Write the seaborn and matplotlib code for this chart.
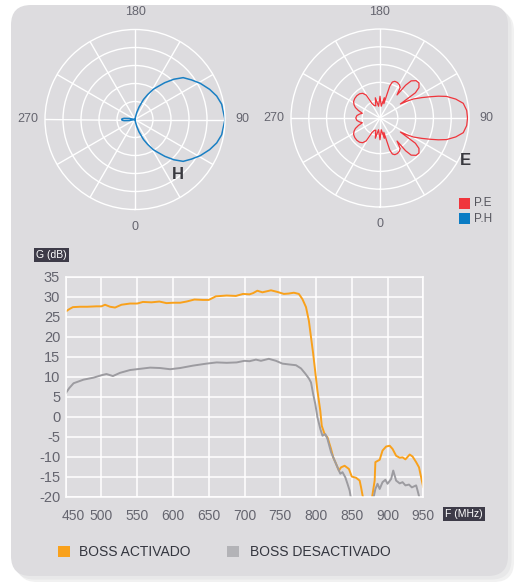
import numpy as np
import pandas as pd
import seaborn as sns
import matplotlib.pyplot as plt
from matplotlib.patches import FancyBboxPatch, Rectangle
import matplotlib.transforms as transforms

# radiation patterns: angle in degrees (0 at bottom, 90 at right), radius 0..90 (outer ring)
h_theta = [90, 100, 106, 112, 119, 125, 131, 136, 141, 146, 149, 153, 157, 162, 166, 170, 175,
           256, 260, 264, 267, 270]
h_r = [90, 88, 85, 80.5, 74.6, 69, 63.8, 56, 47.4, 39, 35, 28, 21.7, 13, 7, 2, 0,
       0, 6, 11, 13, 13.3]

e_theta = [90, 95, 100, 104, 108, 110.5, 113, 116, 119.6, 122, 124.5,
           125.5, 128, 132, 136, 140, 142, 143.5,
           146.5, 150, 154, 158, 161, 163, 165,
           168, 174, 180, 187, 193, 199, 205,
           209, 211, 215, 220, 226, 232, 238, 243, 247, 251, 255,
           259, 264, 270]
e_r = [88.5, 88, 85.5, 79, 70.7, 63, 55, 47, 39, 32, 25,
       44, 50, 53, 52.5, 49, 42, 29,
       37, 39, 40, 40, 38.5, 34, 15,
       21, 12, 22, 12, 21, 13, 14,
       17, 27, 30.5, 32, 32.5, 32.3, 31.5, 29.5, 27, 23, 18.5,
       21, 23.5, 24.5]

# gain curves G (dB) vs F (MHz)
act_f = [450, 455, 460, 470, 480, 493, 500, 505, 512, 519, 528, 540, 550, 558, 570, 581, 591, 600, 610, 619,
         630, 642, 650, 660, 675, 688, 698, 707, 712, 718, 725, 737, 746, 755, 762, 769, 776, 781, 786, 790,
         793, 796, 800, 802, 806, 808, 812, 816, 821, 824, 828, 832, 835, 840, 846, 850, 856, 861, 863, 866,
         869, 876, 878, 882, 883, 889, 893, 898, 903, 907, 912, 917, 921, 925, 931, 935, 940, 944, 947, 950]
act_g = [26.3, 26.9, 27.4, 27.5, 27.5, 27.6, 27.6, 28.0, 27.5, 27.3, 28.0, 28.3, 28.3, 28.7, 28.6, 28.8, 28.4, 28.5, 28.5, 28.8,
         29.3, 29.2, 29.2, 30.1, 30.3, 30.2, 30.7, 30.6, 30.9, 31.5, 31.1, 31.6, 31.2, 30.7, 30.8, 31.0, 30.7, 29.4, 27.4, 24.0,
         19.9, 15.8, 9.6, 6.5, 1.5, -2.2, -4.3, -5.1, -8.0, -10.1, -11.7, -13.4, -12.6, -12.2, -13.0, -14.9, -15.2, -15.9, -17.6, -20.5,
         -24, -24, -20.5, -15.9, -11.3, -10.7, -8.4, -7.4, -7.2, -8.0, -9.7, -10.2, -10.1, -10.6, -9.4, -9.9, -11.3, -12.6, -15.1, -17.6]

des_f = [450, 455, 461, 475, 489, 500, 507, 516, 526, 540, 554, 568, 582, 596, 610, 628, 647, 661, 675, 689,
         700, 707, 716, 723, 734, 744, 753, 762, 772, 779, 785, 790, 793, 796, 799, 802, 806, 809, 813, 816,
         821, 826, 830, 834, 837, 841, 844, 847, 849, 853, 877, 880, 883, 886, 889, 893, 897, 900, 905, 908,
         912, 917, 921, 925, 930, 934, 940, 942, 945, 947]
des_g = [5.9, 7.2, 8.4, 9.3, 9.8, 10.4, 10.7, 10.2, 11.0, 11.7, 12.0, 12.3, 12.2, 11.9, 12.2, 12.8, 13.3, 13.6, 13.5, 13.6,
         14.0, 13.9, 14.3, 14.0, 14.5, 14.0, 13.3, 13.1, 12.9, 12.1, 10.8, 9.6, 8.6, 5.7, 3.2, -0.1, -3.0, -4.7, -4.3, -5.5,
         -8.8, -10.9, -12.6, -14.2, -13.8, -15.1, -16.7, -18.4, -20.5, -24, -24, -20.5, -18.0, -16.7, -18.0, -16.3, -15.7, -16.7, -15.5, -13.4,
         -15.9, -16.6, -16.3, -17.1, -16.9, -17.6, -17.1, -18.4, -20.5, -24]

x_ticks = [450, 500, 550, 600, 650, 700, 750, 800, 850, 900, 950]
y_ticks = [-20, -15, -10, -5, 0, 5, 10, 15, 20, 25, 30, 35]

ORANGE = '#f9a11b'
GREY = '#9c9ba0'
RED = '#f0353c'
BLUE = '#1a80c4'
PANEL = '#dddcdf'
TXT = '#65656f'

sns.set_style('white')
plt.rcParams['font.family'] = ['Liberation Sans', 'DejaVu Sans']
plt.rcParams['axes.unicode_minus'] = False

W, H = 518, 588
fig = plt.figure(figsize=(W / 100, H / 100), dpi=100)
fig.patch.set_facecolor('white')


def fx(x):
    return x / W


def fy(y):
    return 1 - y / H


# panel with soft shadow, kept under the axes
for off, col in [(0.06, '#f1f1f1'), (0.035, '#e8e8e9')]:
    fig.patches.append(FancyBboxPatch((0.11 + off, 0.12 - off), 4.97, 5.71,
                                      boxstyle='round,pad=0,rounding_size=0.2',
                                      fc=col, ec='none', transform=fig.dpi_scale_trans, zorder=-10))
fig.patches.append(FancyBboxPatch((0.11, 0.12), 4.97, 5.71, boxstyle='round,pad=0,rounding_size=0.2',
                                  fc=PANEL, ec='none', transform=fig.dpi_scale_trans, zorder=-9))


def full_circle(theta, r):
    t = np.array(theta, float)
    r = np.array(r, float)
    t_all = np.concatenate([t, 540 - t[::-1][1:]])
    r_all = np.concatenate([r, r[::-1][1:]])
    return np.deg2rad(t_all), r_all


def polar_panel(rect, theta, r, color, lw):
    ax = fig.add_axes(rect, projection='polar')
    ax.set_facecolor(PANEL)
    ax.set_theta_zero_location('S')
    ax.set_theta_direction(1)
    th, rr = full_circle(theta, r)
    sns.lineplot(x=th, y=rr, ax=ax, sort=False, estimator=None, color=color, lw=lw)
    ax.set_ylim(0, 90)
    ax.set_yticks([18, 36, 54, 72])
    ax.set_yticklabels([])
    labels = ['0', '', '', '90', '', '', '180', '', '', '270', '', '']
    ax.set_thetagrids(range(0, 360, 30), labels=labels)
    ax.grid(True, color='white', lw=1.0)
    ax.spines['polar'].set_color('white')
    ax.spines['polar'].set_linewidth(1.0)
    ax.tick_params(axis='x', colors=TXT, labelsize=9, pad=2)
    ax.set_xlabel('')
    ax.set_ylabel('')
    return ax


polar_panel([fx(45), fy(209.5), 180 / W, 180 / H], h_theta, h_r, BLUE, 1.1)
polar_panel([fx(291), fy(207), 178 / W, 178 / H], e_theta, e_r, RED, 0.9)

fig.text(fx(178), fy(174.5), 'H', fontsize=12, fontweight='bold', color='#3a3a40', ha='center', va='center')
fig.text(fx(465.5), fy(160), 'E', fontsize=12, fontweight='bold', color='#3a3a40', ha='center', va='center')

fig.add_artist(Rectangle((fx(459), fy(208.5)), 11 / W, 11 / H, transform=fig.transFigure, fc=RED, ec='none'))
fig.add_artist(Rectangle((fx(459), fy(224)), 11 / W, 11 / H, transform=fig.transFigure, fc='#0a7cc4', ec='none'))
fig.text(fx(474), fy(203.5), 'P.E', fontsize=8.5, color='#55555d', va='center')
fig.text(fx(474), fy(219), 'P.H', fontsize=8.5, color='#55555d', va='center')

# gain chart
ax = fig.add_axes([fx(65.7), fy(497), (423.3 - 65.7) / W, (497 - 276.7) / H])
ax.set_facecolor(PANEL)
gain = pd.concat([
    pd.DataFrame({'f': act_f, 'g': act_g, 'boss': 'BOSS ACTIVADO'}),
    pd.DataFrame({'f': des_f, 'g': des_g, 'boss': 'BOSS DESACTIVADO'}),
])
sns.lineplot(data=gain, x='f', y='g', hue='boss', palette=[ORANGE, GREY], estimator=None,
             sort=False, lw=1.4, legend=False, ax=ax)
ax.set_xlim(450, 950)
ax.set_ylim(-20, 35)
ax.set_xticks(x_ticks)
ax.set_yticks(y_ticks)
ax.set_xticklabels([str(v) for v in x_ticks])
ax.set_yticklabels([str(v) for v in y_ticks])
ax.grid(True, color='white', lw=1.1)
ax.set_axisbelow(True)
for s in ax.spines.values():
    s.set_color('white')
    s.set_linewidth(1.1)
ax.tick_params(axis='both', length=0, colors=TXT, labelsize=10.5)
ax.tick_params(axis='x', pad=9, labelsize=10)
ax.tick_params(axis='y', pad=4)
ax.set_xlabel('')
ax.set_ylabel('')
first = ax.get_xticklabels()[0]
first.set_transform(first.get_transform() + transforms.ScaledTranslation(0.08, 0, fig.dpi_scale_trans))

box = dict(boxstyle='square,pad=0.2', fc='#3d3b48', ec='none')
fig.text(fx(36), fy(255), 'G (dB)', color='white', fontsize=7.5, va='center', ha='left', bbox=box)
fig.text(fx(445), fy(514), 'F (MHz)', color='white', fontsize=7.5, va='center', ha='left', bbox=box)

# bottom legend
fig.add_artist(Rectangle((fx(58), fy(557)), 11.5 / W, 11.5 / H, transform=fig.transFigure, fc=ORANGE, ec='none'))
fig.add_artist(Rectangle((fx(227), fy(557)), 11.5 / W, 11.5 / H, transform=fig.transFigure, fc='#b3b3b7', ec='none'))
fig.text(fx(79), fy(551.5), 'BOSS ACTIVADO', fontsize=10, color='#34363f', va='center')
fig.text(fx(250), fy(551.5), 'BOSS DESACTIVADO', fontsize=10, color='#34363f', va='center')

fig.savefig('out.png', dpi=100, facecolor='white')
